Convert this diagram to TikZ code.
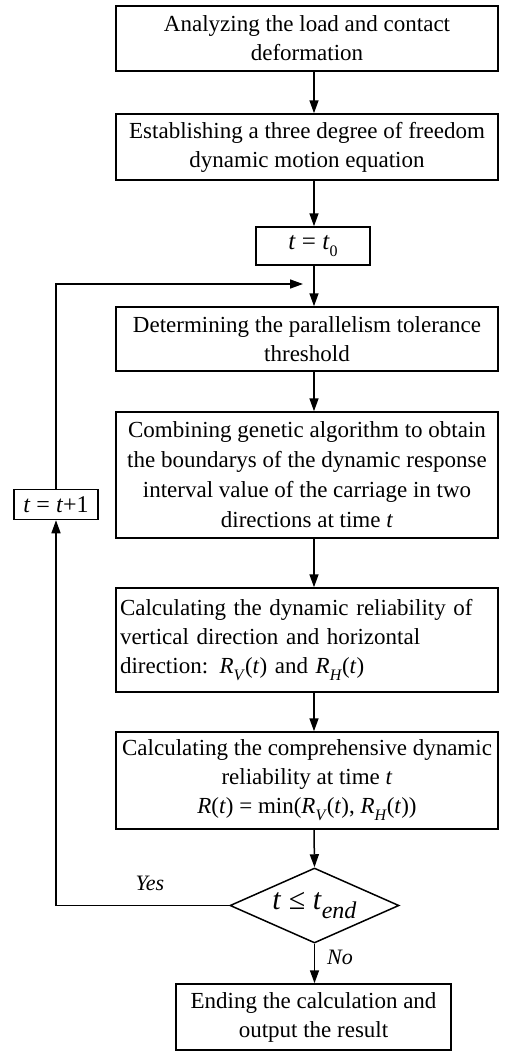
\documentclass[tikz,border=0pt]{standalone}
\usepackage{fontspec}
\setmainfont{Liberation Serif}
\usetikzlibrary{arrows.meta,shapes.geometric}
\newcommand{\vi}[1]{\textit{#1}}
\newcommand{\sbs}[1]{\raisebox{-0.3em}{\fontsize{16}{16}\selectfont #1}}
\begin{document}
\begin{tikzpicture}[x=1pt,y=-1pt,
  every node/.style={font=\fontsize{23}{29}\selectfont, inner sep=0pt},
  box/.style={draw, line width=1.5pt, minimum width=382pt, align=center},
  arr/.style={line width=1.5pt, -{Triangle[length=13pt,width=9pt]}},
  ln/.style={line width=1.5pt}]
\useasboundingbox (0,0) rectangle (507,1052);
\coordinate (ax) at (314,0);
\node[box, minimum height=65pt] (b1) at (307,38.5) {Analyzing the load and contact\\deformation};
\node[box, minimum height=66pt] (b2) at (307,147) {Establishing a three degree of freedom\\dynamic motion equation};
\node[box, minimum width=114pt, minimum height=38pt, font=\fontsize{25}{26}\selectfont] (t0) at (313,246) {\vi{t} = \vi{t}\sbs{0}};
\node[box, minimum height=64pt] (b3) at (307,339) {Determining the parallelism tolerance\\threshold};
\node[box, minimum height=126pt, font=\fontsize{23}{30}\selectfont] (b4) at (307,475) {Combining genetic algorithm to obtain\\the boundarys of the dynamic response\\interval value of the carriage in two\\directions at time \vi{t}};
\node[box, minimum width=84pt, minimum height=30pt, font=\fontsize{24}{26}\selectfont] (t1) at (56,504.5) {\vi{t} = \vi{t}+1};
\node[box, minimum height=104pt, align=left, text width=374pt] (b5) at (307,640) {Calculating the dynamic reliability of\\vertical direction and horizontal\\direction: \vi{R}\sbs{\vi{V}}(\vi{t}) and \vi{R}\sbs{\vi{H}}(\vi{t})};
\node[box, minimum height=97pt] (b6) at (307,780.5) {Calculating the comprehensive dynamic\\reliability at time \vi{t}\\\vi{R}(\vi{t}) = min(\vi{R}\sbs{\vi{V}}(\vi{t}), \vi{R}\sbs{\vi{H}}(\vi{t}))};
\node[diamond, draw, line width=1.5pt, minimum width=169pt, minimum height=75pt, aspect=2.25] (d) at (314.5,905.5) {};
\node[font=\fontsize{30}{30}\selectfont] (dt) at (314.5,905.5) {\vi{t} ≤ \vi{t}\raisebox{-0.3em}{\fontsize{24}{24}\selectfont\vi{end}}};
\node[box, minimum width=275pt, minimum height=66pt] (b7) at (313.5,1017) {Ending the calculation and\\output the result};
\node[font=\fontsize{22}{22}\selectfont\itshape] (yes) at (150,883) {Yes};
\node[font=\fontsize{22}{22}\selectfont\itshape] (no) at (340,957) {No};
\coordinate (lp) at (303,284);
\draw[arr] (b1.south -| ax) -- (b2.north -| ax);
\draw[arr] (b2.south -| ax) -- (t0.north -| ax);
\draw[arr] (t0.south -| ax) -- (b3.north -| ax);
\draw[arr] (b3.south -| ax) -- (b4.north -| ax);
\draw[arr] (b4.south -| ax) -- (b5.north -| ax);
\draw[arr] (b5.south -| ax) -- (b6.north -| ax);
\draw[arr] (b6.south -| ax) -- (d.north);
\draw[arr] (d.south) -- (b7.north -| d.south);
\draw[arr] (d.west) -- (d.west -| t1) -- (t1.south);
\draw[arr] (t1.north) |- (lp);
\end{tikzpicture}
\end{document}
